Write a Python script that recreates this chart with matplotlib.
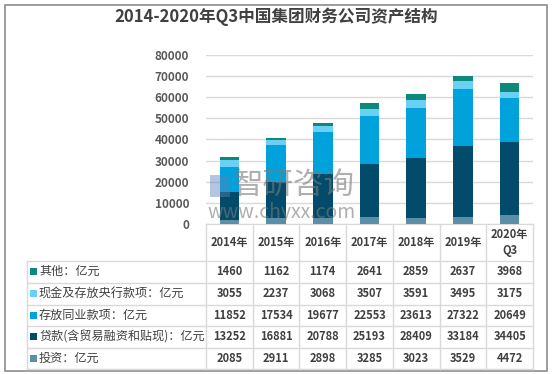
import matplotlib
matplotlib.use("Agg")
import matplotlib.pyplot as plt
from matplotlib.patches import Rectangle
from matplotlib.lines import Line2D
import numpy as np

plt.rcParams['font.family'] = ['Noto Sans CJK SC', 'DejaVu Sans']

# 数据
years = ["2014年", "2015年", "2016年", "2017年", "2018年", "2019年", "2020年\nQ3"]
investment = [2085, 2911, 2898, 3285, 3023, 3529, 4472]
loans = [13252, 16881, 20788, 25193, 28409, 33184, 34405]
interbank = [11852, 17534, 19677, 22553, 23613, 27322, 20649]
cash = [3055, 2237, 3068, 3507, 3591, 3495, 3175]
other = [1460, 1162, 1174, 2641, 2859, 2637, 3968]

series_names = ["投资：亿元", "贷款(含贸易融资和贴现)：亿元", "存放同业款项：亿元",
                "现金及存放央行款项：亿元", "其他：亿元"]
series_vals = [investment, loans, interbank, cash, other]
colors = ["#5B8FA8", "#024B6B", "#00A2DC", "#6CCFF6", "#0B8A7C"]

W, H = 552, 374
fig = plt.figure(figsize=(W / 100, H / 100), dpi=100)


def fx(x):
    return x / W


def fy(y):
    return 1 - y / H


# 外框
fig.patches.append(Rectangle((fx(5), fy(371)), fx(542), (366) / H, transform=fig.transFigure,
                             fill=False, edgecolor="#8C8C8C", linewidth=1.2))

fig.text(0.5, fy(17), "2014-2020年Q3中国集团财务公司资产结构", ha="center", va="center",
         fontsize=12, fontweight="bold", color="#404040")

ax_l, ax_r, ax_b, ax_t = 206, 533, 224, 55
ax = fig.add_axes([fx(ax_l), fy(ax_b), (ax_r - ax_l) / W, (ax_b - ax_t) / H])
x = np.arange(len(years))
bottom = np.zeros(len(years))
for vals, c in zip(series_vals, colors):
    ax.bar(x, vals, 0.42, bottom=bottom, color=c, zorder=3)
    bottom += np.array(vals)

ax.set_xlim(-0.5, len(years) - 0.5)
ax.set_ylim(0, 80000)
ax.set_yticks(np.arange(0, 80001, 10000))
ax.set_yticklabels([str(v) for v in range(0, 80001, 10000)], fontsize=8.5,
                   color="#595959", fontweight="bold")
ax.tick_params(axis="y", length=0, pad=12)
ax.set_xticks([])
ax.grid(axis="y", color="#D9D9D9", linewidth=1, zorder=0)
for s in ["top", "right", "left"]:
    ax.spines[s].set_visible(False)
ax.spines["bottom"].set_color("#D9D9D9")

# 水印
fig.text(fx(233), fy(185), "智研咨询", fontsize=22, color="#7A7A7A", alpha=0.6,
         ha="left", va="center")
fig.patches.append(Rectangle((fx(210), fy(197)), 20 / W, 22 / H, transform=fig.transFigure,
                             facecolor="#5B7FB8", alpha=0.45, edgecolor="none"))
fig.text(fx(207), fy(212), "www.chyxx.com", fontsize=14, color="#7A7A7A", alpha=0.6,
         ha="left", va="center")

# 数据表
grid_c = "#D9D9D9"
col_w = (ax_r - ax_l) / len(years)
row_tops = [261, 283, 305, 326, 348]
row_h = 21.5
tab_left = 27
tab_bottom = 369

def hline(x0, x1, y):
    fig.lines.append(Line2D([fx(x0), fx(x1)], [fy(y), fy(y)], transform=fig.transFigure,
                            color=grid_c, linewidth=1))


def vline(x0, y0, y1):
    fig.lines.append(Line2D([fx(x0), fx(x0)], [fy(y0), fy(y1)], transform=fig.transFigure,
                            color=grid_c, linewidth=1))


for i in range(len(years) + 1):
    vline(ax_l + i * col_w, ax_b, tab_bottom)
vline(tab_left, row_tops[0], tab_bottom)
for y in row_tops + [tab_bottom]:
    hline(tab_left, ax_r, y)

for i, yl in enumerate(years):
    fig.text(fx(ax_l + (i + 0.5) * col_w), fy((ax_b + row_tops[0]) / 2), yl, ha="center",
             va="center", fontsize=8, color="#404040", fontweight="bold", linespacing=1.3)

# 表格行顺序与图例相反
for r, idx in enumerate(range(len(series_names) - 1, -1, -1)):
    yc = row_tops[r] + row_h / 2
    fig.patches.append(Rectangle((fx(30), fy(yc + 3.5)), 7 / W, 7 / H,
                                 transform=fig.transFigure, facecolor=colors[idx],
                                 edgecolor="none"))
    fig.text(fx(39), fy(yc), series_names[idx], ha="left", va="center", fontsize=8.7,
             color="#404040")
    for i, v in enumerate(series_vals[idx]):
        fig.text(fx(ax_l + (i + 0.5) * col_w), fy(yc), str(v), ha="center", va="center",
                 fontsize=8, color="#404040", fontweight="bold")

fig.savefig("out.png", dpi=100)
